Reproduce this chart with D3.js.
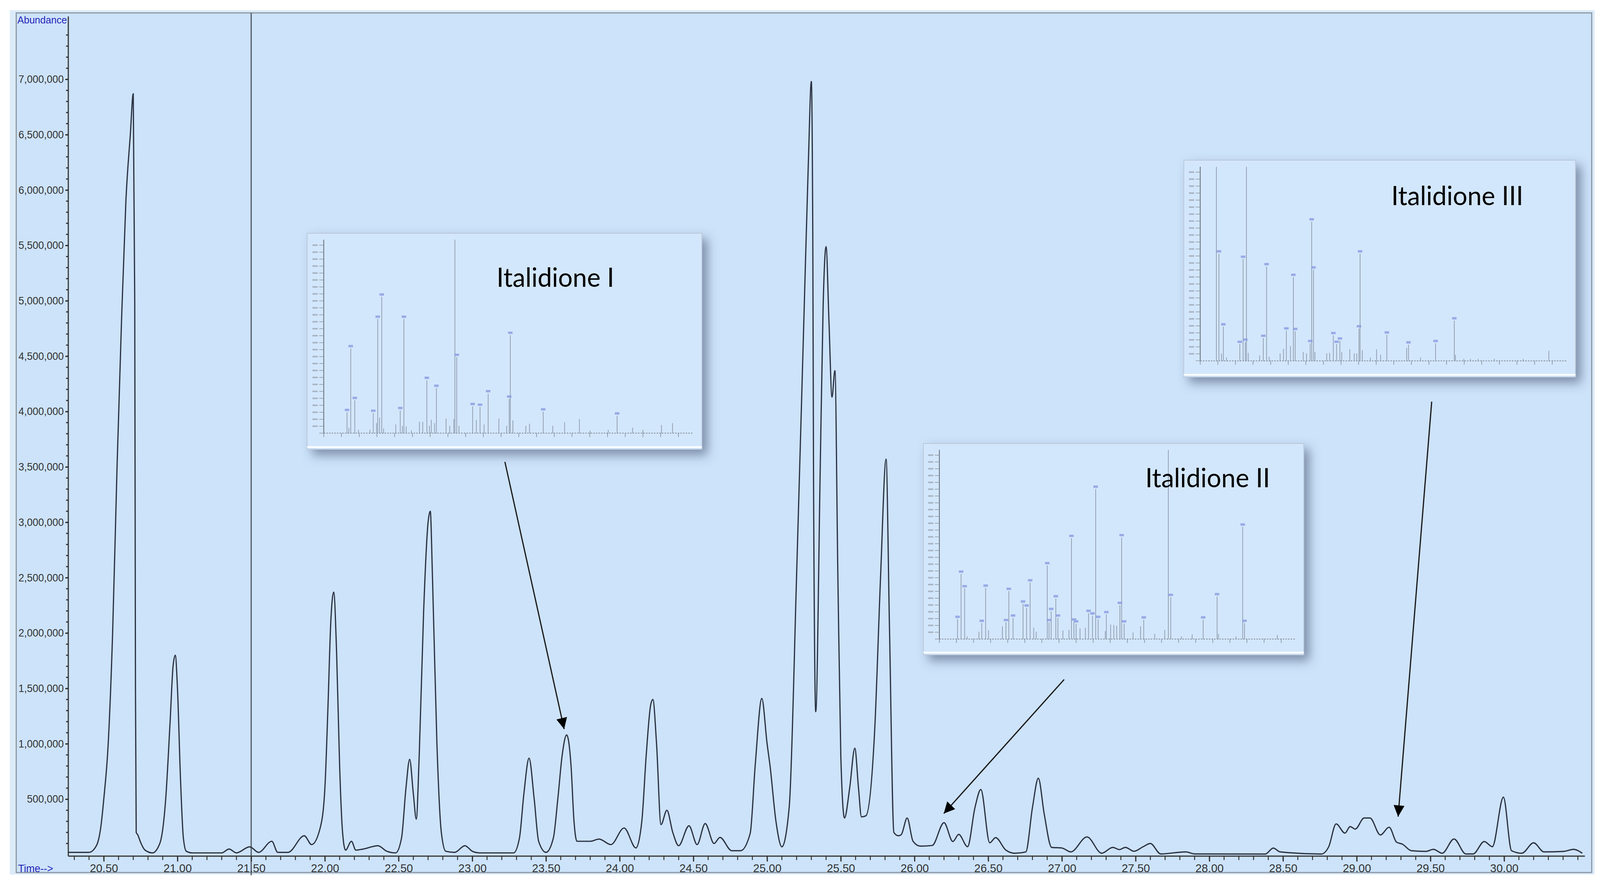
<!DOCTYPE html>
<html>
<head>
<meta charset="utf-8">
<script src="https://cdn.jsdelivr.net/npm/d3@7"></script>
<style>
  html, body { margin: 0; padding: 0; background: #fff; overflow: hidden; }
  svg { display: block; width: 100vw; height: 100vh; }
</style>
</head>
<body>
<svg id="chart" viewBox="0 0 4240 2270" preserveAspectRatio="none"></svg>
<script>
// retention time (min) and abundance (thousands)
const retentionTimes = [20.26,20.40,20.45,20.48,20.50,20.53,20.56,20.59,20.62,20.65,20.68,20.70,20.71,20.715,20.72,20.73,20.75,20.78,20.83,20.88,20.92,20.95,20.97,20.985,21.00,21.02,21.04,21.06,21.10,21.30,21.35,21.40,21.49,21.55,21.64,21.68,21.75,21.86,21.91,21.97,22.00,22.02,22.04,22.06,22.08,22.10,22.12,22.14,22.18,22.21,22.26,22.36,22.42,22.48,22.52,22.55,22.575,22.60,22.62,22.64,22.67,22.70,22.715,22.73,22.76,22.79,22.82,22.88,22.95,23.00,23.05,23.28,23.32,23.35,23.385,23.42,23.45,23.50,23.55,23.58,23.61,23.64,23.67,23.69,23.71,23.80,23.86,23.94,24.03,24.11,24.15,24.18,24.21,24.225,24.25,24.28,24.32,24.36,24.40,24.47,24.525,24.58,24.64,24.68,24.76,24.82,24.885,24.92,24.964,25.00,25.02,25.06,25.10,25.15,25.20,25.25,25.28,25.30,25.31,25.315,25.33,25.36,25.38,25.40,25.42,25.44,25.46,25.48,25.50,25.525,25.56,25.595,25.62,25.64,25.67,25.73,25.77,25.807,25.83,25.86,25.89,25.91,25.95,25.99,26.04,26.12,26.20,26.26,26.30,26.36,26.41,26.45,26.51,26.55,26.62,26.68,26.755,26.80,26.84,26.88,26.93,27.00,27.06,27.17,27.27,27.345,27.39,27.43,27.49,27.55,27.60,27.67,27.84,27.90,28.38,28.434,28.48,28.76,28.81,28.86,28.92,28.955,28.99,29.05,29.09,29.16,29.22,29.27,29.31,29.37,29.47,29.52,29.58,29.66,29.74,29.79,29.865,29.92,29.995,30.05,30.12,30.20,30.27,30.405,30.47,30.53];
const abundanceK = [20,20,80,250,500,1000,2000,3500,4800,5900,6500,6870,5000,1500,200,180,110,40,15,100,500,1200,1700,1800,1500,700,150,30,15,15,50,15,70,20,120,20,20,170,90,250,600,1300,2100,2370,1800,800,200,40,120,40,50,80,30,15,150,600,860,550,320,900,2200,3000,3100,2500,1000,200,30,20,80,30,15,15,150,550,870,500,120,20,150,500,900,1080,800,300,120,120,140,90,240,60,300,900,1350,1400,1000,270,400,200,80,260,90,280,100,155,35,35,190,820,1410,1000,800,300,70,430,2520,4860,6260,6980,5560,3370,1290,3460,4950,5490,4800,4130,4370,2520,890,330,600,960,600,340,350,1130,2520,3570,2060,200,170,180,330,120,76,82,288,118,182,71,424,588,106,153,40,12,24,424,689,365,65,59,24,159,12,65,45,65,30,70,100,6,24,6,5,59,24,5,71,277,194,253,230,330,330,177,247,112,94,35,29,47,12,141,6,6,118,71,518,35,12,106,24,29,47,12];

const yTickValues = [500000,1000000,1500000,2000000,2500000,3000000,3500000,4000000,4500000,5000000,5500000,6000000,6500000,7000000];
const xTickValues = [20.5,21,21.5,22,22.5,23,23.5,24,24.5,25,25.5,26,26.5,27,27.5,28,28.5,29,29.5,30];
const cursorTime = 21.5;

// mass spectra insets: position along m/z axis (0-100) and relative height (%)
const spec1Pos = [6.3,6.8,7.3,8.4,9.4,12.5,13.4,14.3,14.6,15.1,15.7,16.2,19.5,20.7,21.3,21.7,22.3,23.7,25.9,26.8,27.9,28.6,29.1,30.0,30.5,33.1,34.1,35.2,35.5,36.0,36.6,40.3,41.3,42.3,43.4,44.5,47.4,49.5,50.2,50.5,51.2,54.7,55.7,59.4,62.0,65.2,69.2,72.1,77.0,79.4,83.6,86.4,91.4,94.4];
const spec1Int = [10.8,2.8,43.8,17.0,1.7,1.7,10.4,5.2,59.0,8.0,70.5,2.4,4.5,11.8,3.8,59.0,3.5,1.4,5.9,5.9,27.4,3.8,6.9,5.2,23.3,7.6,3.8,7.3,100,39.3,3.8,13.9,6.9,13.5,4.5,20.5,7.6,3.8,17.7,50.7,6.6,3.8,4.9,11.1,3.8,5.6,7.3,1.4,1.7,9.0,2.8,1.7,4.2,5.2];
const spec2Pos = [5.1,6.1,7.1,7.8,11.1,11.9,13.0,13.8,17.7,18.7,19.5,20.7,23.5,24.5,25.5,26.5,27.2,30.3,30.8,31.4,32.7,33.3,34.7,36.4,37.1,37.8,38.4,39.5,41.0,41.9,43.0,43.9,44.6,46.6,46.9,48.1,49.0,49.8,50.7,51.2,51.9,54.4,56.5,57.4,60.5,63.3,64.3,65.0,68.0,71.0,74.1,78.0,78.4,83.3,85.2,85.7,94.9];
const spec2Int = [10.5,34.4,26.7,1.4,3.9,8.4,27.0,4.6,6.7,8.8,25.3,11.2,18.6,16.5,29.8,6.0,3.9,38.9,8.8,14.7,21.4,11.2,4.6,4.9,53.3,9.1,8.1,5.6,6.0,13.7,12.3,79.3,10.5,4.2,13.0,7.7,7.4,7.0,17.9,53.7,8.1,3.5,6.7,10.2,2.8,4.9,100,22.1,1.4,2.5,10.2,22.5,2.8,1.4,59.3,8.4,2.1];
const spec3Pos = [4.4,5.1,5.8,6.3,7.2,10.8,11.7,12.3,12.6,13.1,16.2,17.2,18.1,18.8,21.8,22.7,23.5,24.6,25.4,25.9,28.1,29.0,30.0,30.4,30.9,31.3,34.5,35.3,36.3,37.2,38.1,38.6,40.8,42.0,42.7,43.3,43.6,44.2,46.4,48.1,49.2,50.9,56.3,56.8,60.1,64.2,69.3,69.6,71.9,73.7,75.8,80.2,88.1,95.1];
const spec3Int = [100,55.2,3.8,17.6,1.7,8.6,52.4,9.7,100,4.1,2.8,11.7,48.6,2.1,3.8,6.2,15.5,7.6,43.1,15.2,4.5,3.8,9.0,71.7,46.9,4.5,3.8,4.1,13.1,8.6,10.3,4.5,5.9,3.8,3.8,16.6,55.2,5.5,1.7,5.9,3.1,13.4,6.6,8.3,1.7,9.0,20.7,3.1,1.0,1.0,1.0,1.0,1.0,5.2];

const insets = [
  {name: "Italidione I",   pos: spec1Pos, ints: spec1Int, box: [814, 597, 1046, 553], title: [1316, 734], arrow: [[1338,1182],[1495,1866]]},
  {name: "Italidione II",  pos: spec2Pos, ints: spec2Int, box: [2447, 1135, 1008, 541], title: [3035, 1247], arrow: [[2820,1739],[2501,2082]]},
  {name: "Italidione III", pos: spec3Pos, ints: spec3Int, box: [3137, 410, 1038, 555], title: [3687, 525], arrow: [[3794,1028],[3705,2090]]}
];

const svg = d3.select("#chart");
const bg = "#cde3fa";
const narrow = "'Liberation Sans Narrow', 'Arial Narrow', 'Liberation Sans', sans-serif";

const defs = svg.append("defs");
const shadow = defs.append("filter").attr("id", "shadow")
  .attr("x", "-10%").attr("y", "-10%").attr("width", "125%").attr("height", "125%");
shadow.append("feDropShadow").attr("dx", 14).attr("dy", 14).attr("stdDeviation", 14)
  .attr("flood-color", "#3a4a66").attr("flood-opacity", 0.55);
defs.append("marker").attr("id", "head")
  .attr("viewBox", "0 -5 10 10").attr("refX", 10).attr("refY", 0)
  .attr("markerWidth", 11).attr("markerHeight", 9).attr("markerUnits", "strokeWidth")
  .attr("orient", "auto")
  .append("path").attr("d", "M0,-5L10,0L0,5Z").attr("fill", "#000");

// window frame
svg.append("rect").attr("x", 26).attr("y", 26).attr("width", 4200).attr("height", 2212)
  .attr("fill", "#dcebf8");
svg.append("rect").attr("x", 43).attr("y", 33).attr("width", 4175).attr("height", 2200)
  .attr("fill", bg).attr("stroke", "#8b97a3").attr("stroke-width", 3);

const x = d3.scaleLinear().domain([20.5, 30]).range([275, 3986]);
const y = d3.scaleLinear().domain([0, 7000000]).range([2187, 203]);
const xLeft = 181, xRight = 4200, base = 2191;

// cursor line
svg.append("line").attr("x1", x(cursorTime)).attr("x2", x(cursorTime))
  .attr("y1", 33).attr("y2", 2240).attr("stroke", "#4d5560").attr("stroke-width", 3);

// y axis
const yAxis = svg.append("g").attr("transform", `translate(${xLeft},0)`)
  .call(d3.axisLeft(y).tickValues(yTickValues).tickFormat(d3.format(",")).tickSize(8).tickPadding(4));
yAxis.select(".domain").remove();
yAxis.append("line").attr("y1", 42).attr("y2", base).attr("stroke", "#333").attr("stroke-width", 3);
yAxis.selectAll(".tick line").attr("stroke", "#333").attr("stroke-width", 3);
yAxis.selectAll(".tick text").attr("font-family", narrow).attr("font-size", 27).attr("fill", "#333");
yAxis.selectAll(".minor").data(d3.range(100000, 7500000, 100000))
  .join("line").attr("x1", -6).attr("x2", 0).attr("y1", d => y(d)).attr("y2", d => y(d))
  .attr("stroke", "#333").attr("stroke-width", 3);

// x axis
const xAxis = svg.append("g").attr("transform", `translate(0,${base})`)
  .call(d3.axisBottom(x).tickValues(xTickValues).tickFormat(d3.format(".2f")).tickSize(14).tickPadding(6));
xAxis.select(".domain").remove();
xAxis.append("line").attr("x1", xLeft).attr("x2", xRight).attr("stroke", "#333").attr("stroke-width", 3);
xAxis.selectAll(".tick line").attr("stroke", "#333").attr("stroke-width", 3);
xAxis.selectAll(".tick text").attr("font-family", narrow).attr("font-size", 30).attr("fill", "#333");
xAxis.selectAll(".minor").data(d3.range(20.3, 30.55, 0.1))
  .join("line").attr("x1", d => x(d)).attr("x2", d => x(d)).attr("y1", 0).attr("y2", 10)
  .attr("stroke", "#333").attr("stroke-width", 2.5);

svg.append("text").attr("x", 46).attr("y", 60).text("Abundance")
  .attr("font-family", narrow).attr("font-size", 26).attr("fill", "#2626b8");
svg.append("text").attr("x", 48).attr("y", 2232).text("Time-->")
  .attr("font-family", narrow).attr("font-size", 27).attr("fill", "#2626b8");

// chromatogram trace
const trace = retentionTimes.map((t, i) => [t, abundanceK[i] * 1000]);
svg.append("path").datum(trace)
  .attr("fill", "none").attr("stroke", "#2b3242").attr("stroke-width", 3.2)
  .attr("stroke-linejoin", "round")
  .attr("d", d3.line().x(d => x(d[0])).y(d => y(d[1])).curve(d3.curveMonotoneX));

// insets
insets.forEach(ins => {
  const [bx, by, bw, bh] = ins.box;
  const g = svg.append("g").attr("transform", `translate(${bx},${by})`);
  g.append("rect").attr("width", bw).attr("height", bh).attr("fill", "#d3e7fc")
    .attr("stroke", "#b9c8d8").attr("stroke-width", 2).attr("filter", "url(#shadow)");
  const px = d3.scaleLinear().domain([0, 100]).range([bw * 0.042, bw * 0.978]);
  const py = d3.scaleLinear().domain([0, 100]).range([bh * 0.925, bh * 0.03]);
  // y axis with dense ticks
  g.append("line").attr("x1", px(0)).attr("x2", px(0)).attr("y1", py(100)).attr("y2", py(0))
    .attr("stroke", "#5a6470").attr("stroke-width", 2);
  g.selectAll(".yt").data(d3.range(0, 100.1, 3.6)).join("line")
    .attr("x1", px(0) - 12).attr("x2", px(0)).attr("y1", d => py(d)).attr("y2", d => py(d))
    .attr("stroke", "#8a95a3").attr("stroke-width", 1.5);
  g.selectAll(".yl").data(d3.range(3.6, 100.1, 3.6)).join("rect")
    .attr("x", px(0) - 30).attr("y", d => py(d) - 2).attr("width", 14).attr("height", 4)
    .attr("fill", "#a9b5c4");
  // baseline and x ticks
  g.append("line").attr("x1", px(0)).attr("x2", px(100)).attr("y1", py(0)).attr("y2", py(0))
    .attr("stroke", "#7c8794").attr("stroke-width", 2).attr("stroke-dasharray", "4,3");
  g.selectAll(".xt").data(d3.range(0, 100.1, 4.8)).join("line")
    .attr("x1", d => px(d)).attr("x2", d => px(d)).attr("y1", py(0)).attr("y2", py(0) + 10)
    .attr("stroke", "#7c8794").attr("stroke-width", 1.5);
  g.append("line").attr("x1", 0).attr("x2", bw).attr("y1", bh - 6).attr("y2", bh - 6)
    .attr("stroke", "#ffffff").attr("stroke-width", 4);
  // spectrum sticks
  g.selectAll(".stick").data(ins.pos.map((p, i) => [p, ins.ints[i]])).join("line")
    .attr("x1", d => px(d[0])).attr("x2", d => px(d[0]))
    .attr("y1", py(0)).attr("y2", d => py(d[1]))
    .attr("stroke", "#8c97a8").attr("stroke-width", 1.8);
  // tiny peak labels (blue marks above the larger peaks)
  g.selectAll(".lab").data(ins.pos.map((p, i) => [p, ins.ints[i]]).filter(d => d[1] > 8 && d[1] < 100))
    .join("rect")
    .attr("x", d => px(d[0]) - 6).attr("y", d => py(d[1]) - 9).attr("width", 12).attr("height", 6)
    .attr("fill", "#8a9be0").attr("opacity", 0.8);
  g.append("text").attr("x", ins.title[0] - bx).attr("y", ins.title[1] - by)
    .text(ins.name).attr("font-family", "Lato, 'Open Sans', sans-serif")
    .attr("font-size", 68).attr("fill", "#000");
  // arrow to the peak
  svg.append("line")
    .attr("x1", ins.arrow[0][0]).attr("y1", ins.arrow[0][1])
    .attr("x2", ins.arrow[1][0]).attr("y2", ins.arrow[1][1])
    .attr("stroke", "#1a1a1a").attr("stroke-width", 3.2).attr("marker-end", "url(#head)");
});
</script>
</body>
</html>
